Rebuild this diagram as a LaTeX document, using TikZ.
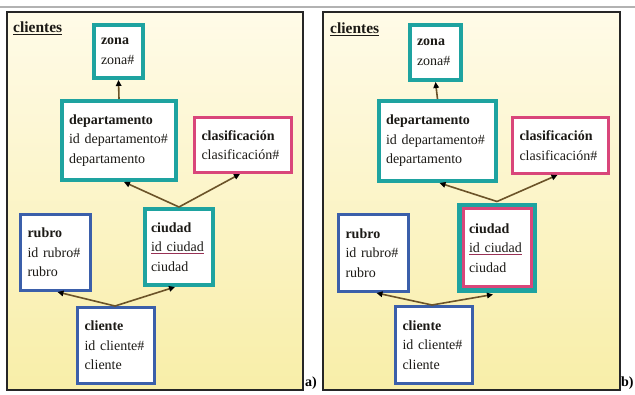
\documentclass[tikz,border=0pt]{standalone}
\usepackage{fontspec}
\setmainfont{Liberation Serif}
\usetikzlibrary{arrows.meta,calc}

\definecolor{tealc}{HTML}{1EA3A0}
\definecolor{pinkc}{HTML}{D9467A}
\definecolor{bluec}{HTML}{3B5FAA}
\definecolor{linkc}{HTML}{6B5328}
\definecolor{inkc}{HTML}{1C1A16}
\definecolor{bgtop}{HTML}{FFFBE8}
\definecolor{bgmid}{HTML}{FAF2BE}
\definecolor{bgbot}{HTML}{F8EEA8}

\newcommand{\ulink}[1]{\textcolor{pinkc!70!black}{\underline{\textcolor{inkc}{#1}}}}

\tikzset{
  ent/.style={draw, fill=white, inner xsep=0pt, inner ysep=0pt, align=left,
    font=\fontsize{14}{19.5}\selectfont, text=inkc},
  tealbox/.style={ent, draw=tealc, line width=4pt},
  pinkbox/.style={ent, draw=pinkc, line width=3pt},
  bluebox/.style={ent, draw=bluec, line width=3pt},
  dualbox/.style={ent, draw=pinkc, line width=3pt,
    preaction={draw=tealc, line width=12pt}},
  link/.style={draw=linkc, line width=1.6pt,
    -{Triangle[length=6pt,width=5.5pt,black]}},
  panel/.style={draw=black!85, line width=1.1pt,
    top color=bgtop, middle color=bgmid, bottom color=bgbot},
  title/.style={anchor=base west, inner sep=0pt, text=inkc,
    font=\fontsize{15.5}{17}\selectfont\bfseries},
  tag/.style={anchor=base west, inner sep=0pt, text=black,
    font=\fontsize{14}{16}\selectfont\bfseries}
}

\begin{document}
\begin{tikzpicture}[x=1pt,y=-1pt]
\useasboundingbox (0,0) rectangle (635,395);
\fill[white] (0,0) rectangle (635,395);
% thin rule along the top edge
\draw[black!30, line width=1.5pt] (0,7) -- (635,7);

% ---------- panel a ----------
\path[panel] (7,12) rectangle (303,390);
\node[title] (ta) at (13,33) {\underline{clientes}};
\node[tag] (la) at (305,387) {a)};

\node[tealbox, minimum width=49, minimum height=53, text width=35] (zonaA) at (118.5,51.5)
  {\textbf{zona}\\zona\#};
\node[tealbox, minimum width=114, minimum height=79, text width=100] (depA) at (119,140.5)
  {\textbf{departamento}\\id departamento\#\\departamento};
\node[pinkbox, minimum width=97, minimum height=55, text width=83] (claA) at (243,145)
  {\textbf{clasificación}\\clasificación\#};
\node[tealbox, minimum width=68, minimum height=76, text width=56] (ciuA) at (179,247)
  {\textbf{ciudad}\\\ulink{id ciudad}\\ciudad};
\node[bluebox, minimum width=70, minimum height=76, text width=56] (rubA) at (55.5,252.5)
  {\textbf{rubro}\\id rubro\#\\rubro};
\node[bluebox, minimum width=77, minimum height=76, text width=63] (cliA) at (116,345.5)
  {\textbf{cliente}\\id cliente\#\\cliente};

\draw[link] (depA.north) -- (zonaA.south);
\draw[link] (ciuA.north) -- ($(depA.south)+(5,0)$);
\draw[link] (ciuA.north) -- ($(claA.south)+(-3,0)$);
\draw[link] ($(cliA.north)+(-1,0)$) -- ($(rubA.south)+(2,0)$);
\draw[link] ($(cliA.north)+(-1,0)$) -- ($(ciuA.south)+(-4,0)$);

% ---------- panel b ----------
\path[panel] (323,12) rectangle (620,390);
\node[title] (tb) at (330,34) {\underline{clientes}};
\node[tag] (lb) at (621,387) {b)};

\node[tealbox, minimum width=51, minimum height=55, text width=37] (zonaB) at (435.5,52.5)
  {\textbf{zona}\\zona\#};
\node[tealbox, minimum width=117, minimum height=80, text width=103] (depB) at (437.5,141)
  {\textbf{departamento}\\id departamento\#\\departamento};
\node[pinkbox, minimum width=96, minimum height=56, text width=82] (claB) at (560.5,145.5)
  {\textbf{clasificación}\\clasificación\#};
\node[dualbox, minimum width=68, minimum height=78, text width=56] (ciuB) at (497,248)
  {\textbf{ciudad}\\\ulink{id ciudad}\\ciudad};
\node[bluebox, minimum width=70, minimum height=77, text width=56] (rubB) at (373.5,253)
  {\textbf{rubro}\\id rubro\#\\rubro};
\node[bluebox, minimum width=77, minimum height=77, text width=63] (cliB) at (434,345)
  {\textbf{cliente}\\id cliente\#\\cliente};

\draw[link] (depB.north) -- (zonaB.south);
\draw[link] ($(ciuB.north)+(0,-6)$) -- ($(depB.south)+(2,0)$);
\draw[link] ($(ciuB.north)+(0,-6)$) -- ($(claB.south)+(-3,0)$);
\draw[link] ($(cliB.north)+(-2,0)$) -- ($(rubB.south)+(3,0)$);
\draw[link] ($(cliB.north)+(-2,0)$) -- ($(ciuB.south)+(-4,6)$);
\end{tikzpicture}
\end{document}
